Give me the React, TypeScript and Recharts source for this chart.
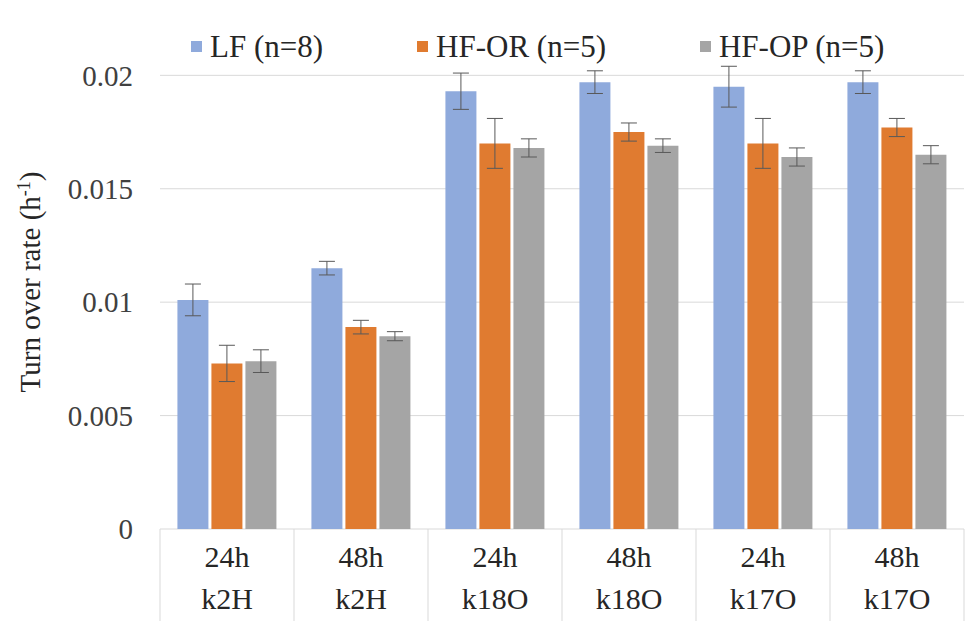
import { BarChart, Bar, XAxis, YAxis, CartesianGrid, Legend, ErrorBar } from "recharts";

const times = ["24h", "48h", "24h", "48h", "24h", "48h"];
const params = ["k2H", "k2H", "k18O", "k18O", "k17O", "k17O"];

const lfValues = [0.0101, 0.0115, 0.0193, 0.0197, 0.0195, 0.0197];
const lfErrors = [0.0007, 0.0003, 0.0008, 0.0005, 0.0009, 0.0005];
const orValues = [0.0073, 0.0089, 0.0170, 0.0175, 0.0170, 0.0177];
const orErrors = [0.0008, 0.0003, 0.0011, 0.0004, 0.0011, 0.0004];
const opValues = [0.0074, 0.0085, 0.0168, 0.0169, 0.0164, 0.0165];
const opErrors = [0.0005, 0.0002, 0.0004, 0.0003, 0.0004, 0.0004];

const yTicks = [0, 0.005, 0.01, 0.015, 0.02];

const seriesInfo = [
  { key: "lf", name: "LF (n=8)", color: "#8faadc" },
  { key: "or", name: "HF-OR (n=5)", color: "#e07b30" },
  { key: "op", name: "HF-OP (n=5)", color: "#a5a5a5" },
];

const data = times.map((t, i) => ({
  key: `${t} ${params[i]}`,
  time: t,
  param: params[i],
  lf: lfValues[i],
  lfErr: lfErrors[i],
  or: orValues[i],
  orErr: orErrors[i],
  op: opValues[i],
  opErr: opErrors[i],
}));

const FONT = "'Liberation Serif', serif";
const WIDTH = 966;
const HEIGHT = 621;
const LEFT = 160;
const RIGHT = 2;
const BAND = (WIDTH - LEFT - RIGHT) / times.length;

function CategoryTick(props: any) {
  const { x, y, index } = props;
  const d = data[index];
  return (
    <g>
      <line x1={x - BAND / 2} y1={y} x2={x - BAND / 2} y2={HEIGHT} stroke="#d9d9d9" />
      {index === data.length - 1 && (
        <line x1={x + BAND / 2} y1={y} x2={x + BAND / 2} y2={HEIGHT} stroke="#d9d9d9" />
      )}
      <text x={x} y={y + 38} textAnchor="middle" fill="#262626" fontFamily={FONT} fontSize={30}>
        {d.time}
      </text>
      <text x={x} y={y + 80} textAnchor="middle" fill="#262626" fontFamily={FONT} fontSize={30}>
        {d.param}
      </text>
    </g>
  );
}

function LegendContent() {
  return (
    <div
      style={{
        display: "flex",
        alignItems: "center",
        paddingLeft: 191,
        fontFamily: FONT,
        fontSize: 31,
        lineHeight: "33px",
        height: 33,
        color: "#262626",
        whiteSpace: "nowrap",
        width: WIDTH,
        boxSizing: "border-box",
      }}
    >
      {seriesInfo.map((s) => (
        <div key={s.key} style={{ display: "flex", alignItems: "center", marginRight: 94, flexShrink: 0 }}>
          <span style={{ display: "inline-block", width: 11, height: 11, background: s.color, marginRight: 8 }} />
          <span>{s.name}</span>
        </div>
      ))}
    </div>
  );
}

function YLabel() {
  return (
    <text
      x={40}
      y={282}
      transform="rotate(-90 40 282)"
      textAnchor="middle"
      fill="#262626"
      fontFamily={FONT}
      fontSize={29}
    >
      Turn over rate (h
      <tspan dy={-10} fontSize={18}>-1</tspan>
      <tspan dy={10}>)</tspan>
    </text>
  );
}

export default function App() {
  return (
    <div style={{ position: "absolute", left: 0, top: 0, width: WIDTH, height: HEIGHT, background: "#fff", fontFamily: FONT }}>
      <BarChart
        width={WIDTH}
        height={HEIGHT}
        data={data}
        margin={{ top: 31, right: RIGHT, left: 0, bottom: 0 }}
        barCategoryGap="13%"
        barGap={3}
      >
        <CartesianGrid vertical={false} stroke="#d9d9d9" horizontalValues={yTicks} />
        <XAxis
          dataKey="key"
          height={92}
          interval={0}
          axisLine={false}
          tickLine={false}
          tickSize={0}
          tickMargin={0}
          tick={<CategoryTick />}
        />
        <YAxis
          width={LEFT}
          domain={[0, 0.0205]}
          ticks={yTicks}
          axisLine={false}
          tickLine={false}
          tickSize={0}
          tickMargin={27}
          tick={{ fontSize: 29, fill: "#404040", fontFamily: FONT }}
          label={{ content: () => <YLabel /> }}
        />
        <Legend verticalAlign="top" wrapperStyle={{ top: 30, left: 0, width: WIDTH }} content={() => <LegendContent />} />
        {seriesInfo.map((s) => (
          <Bar key={s.key} dataKey={s.key} name={s.name} fill={s.color} isAnimationActive={false}>
            <ErrorBar dataKey={`${s.key}Err`} width={8} stroke="#595959" strokeWidth={1} />
          </Bar>
        ))}
      </BarChart>
    </div>
  );
}
